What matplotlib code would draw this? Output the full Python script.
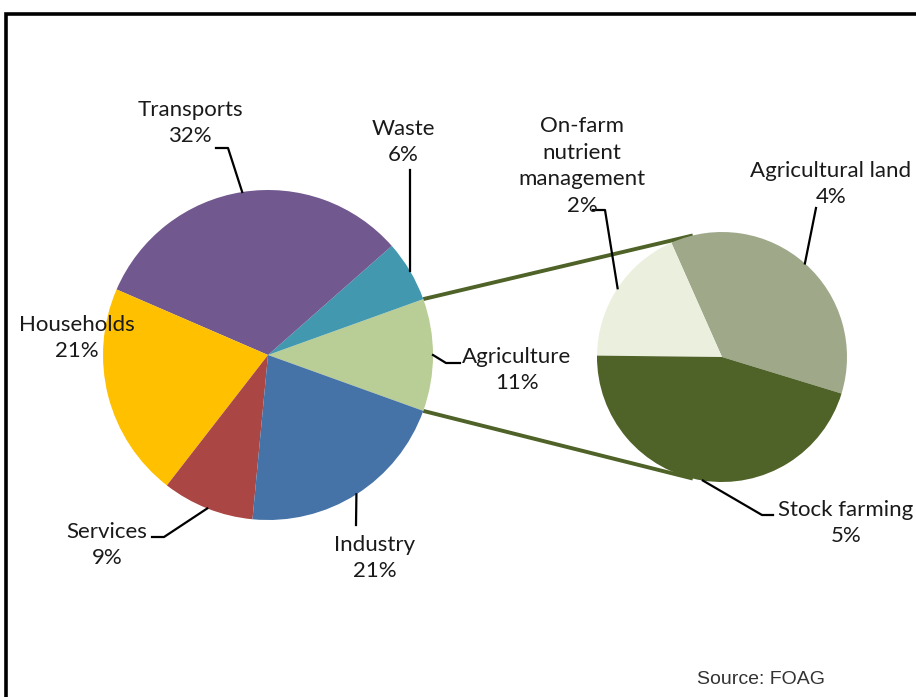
import numpy as np
import matplotlib.pyplot as plt

# emissions by sector (%)
main_labels = ['Agriculture', 'Waste', 'Transports', 'Households', 'Services', 'Industry']
main_values = [11, 6, 32, 21, 9, 21]
main_colors = ['#B9CD96', '#4198AF', '#71588F', '#FFC000', '#AA4643', '#4572A7']

# breakdown of agriculture (%)
sub_labels = ['Agricultural land', 'On-farm\nnutrient\nmanagement', 'Stock farming']
sub_values = [4, 2, 5]
sub_colors = ['#9FA98A', '#EBF0DE', '#4F6228']

W, H = 916, 697

# label centres and leader elbows, in pixel coords (y downwards)
main_text_pos = [(517, 370), (403, 142), (190, 123), (77, 338), (107, 545), (375, 558)]
main_elbows = [[(446, 363), (460, 363)], [(410, 170)], [(228, 148), (216, 148)],
               None, [(164, 537), (152, 537)], [(356, 525)]]
sub_text_pos = [(831, 184), (582, 166), (846, 523)]
sub_elbows = [[(816, 208)], [(605, 210), (593, 210)], [(762, 515), (773, 515)]]

FONT = 'Lato'
FS = 16


def px(p):
    return (p[0], H - p[1])


def edge(w, ang):
    cx, cy = w.center
    a = np.radians(ang)
    return (cx + w.r * np.cos(a), cy + w.r * np.sin(a))


fig = plt.figure(figsize=(W / 100, H / 100), dpi=100)
ax = fig.add_axes([0, 0, 1, 1])

main_w, _ = ax.pie(main_values, colors=main_colors, startangle=-19.8, counterclock=True,
                   center=px((268, 355)), radius=165, frame=True,
                   wedgeprops=dict(linewidth=0))
sub_w, _ = ax.pie(sub_values, colors=sub_colors, startangle=-17, counterclock=True,
                  center=px((722, 357)), radius=125, frame=True,
                  wedgeprops=dict(linewidth=0))

# connector lines between the agriculture slice and the second pie
agri = main_w[0]
for a_main, a_sub in [(agri.theta2, 103.5), (agri.theta1, -103.5)]:
    p0 = edge(agri, a_main)
    p1 = edge(sub_w[0], a_sub)
    ax.plot([p0[0], p1[0]], [p0[1], p1[1]], color='#4F6228', lw=2.8,
            solid_capstyle='butt', zorder=0.5)


def label(wedges, labels, values, positions, elbows):
    for w, lab, val, pos, elb in zip(wedges, labels, values, positions, elbows):
        x, y = px(pos)
        ax.text(x, y, f'{lab}\n{val}%', ha='center', va='center', fontsize=FS,
                family=FONT, color='#1a1a1a', linespacing=1.42, zorder=5)
        if elb is None:
            continue
        mid = (w.theta1 + w.theta2) / 2
        pts = [edge(w, mid)] + [px(p) for p in elb]
        xs, ys = zip(*pts)
        ax.plot(xs, ys, color='black', lw=1.6, zorder=4)


label(main_w, main_labels, main_values, main_text_pos, main_elbows)
label(sub_w, sub_labels, sub_values, sub_text_pos, sub_elbows)

ax.text(697, H - 679, 'Source: FOAG', ha='left', va='center', fontsize=14,
        family='Liberation Sans', color='#333333')

# outer frame (only left and top edges are inside the image)
ax.plot([5.5, 5.5, W + 5], [-5, H - 13.5, H - 13.5], color='black', lw=2.6,
        solid_joinstyle='miter')

ax.set_xlim(0, W)
ax.set_ylim(0, H)
ax.set_aspect('auto')
ax.axis('off')

fig.savefig('out.png', dpi=100)
